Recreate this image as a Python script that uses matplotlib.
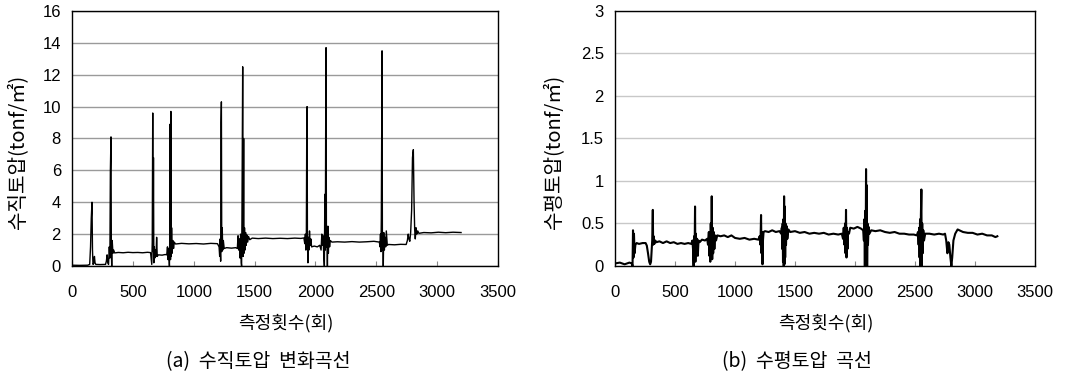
import numpy as np
import matplotlib.pyplot as plt
from matplotlib.ticker import FormatStrFormatter

plt.rcParams['font.family'] = ['Liberation Sans', 'Noto Sans CJK KR', 'DejaVu Sans']
KR = ['Noto Sans CJK KR', 'DejaVu Sans']

# (a) vertical earth pressure trace: (count, tonf/m2)
vertical_pts = [
    (0, 0.05), (60, 0.04), (129, 0.05), (145, 0.1), (152, 1.2), (158, 3.0), (164, 4.0), (168, 1.0),
    (172, 0.1), (178, 0.15), (184, 0.6), (189, 0.2), (195, 0.1), (230, 0.09), (275, 0.1), (282, 0.3),
    (288, 0.7), (294, 0.2), (300, 0.1), (306, 1.2), (311, 0.5), (315, 6.0), (320, 8.1), (323, 0.9),
    (326, 0.0), (330, 1.6), (336, 0.8), (342, 1.0), (350, 0.82), (380, 0.85), (420, 0.83), (460, 0.86),
    (500, 0.84), (540, 0.85), (580, 0.83), (620, 0.86), (645, 0.84), (650, 0.5), (655, 0.1), (659, 1.5),
    (663, 9.6), (666, 0.9), (669, 6.8), (672, 0.2), (676, 1.2), (680, 0.5), (685, 1.0), (690, 0.6),
    (695, 1.8), (700, 0.6), (709, 0.7), (740, 0.68), (765, 0.72), (778, 0.7), (784, 1.2), (789, 0.4),
    (794, 1.1), (800, 0.0), (803, 1.8), (806, 8.9), (809, 0.4), (812, 9.7), (815, 0.6), (818, 2.4),
    (822, 0.8), (828, 1.6), (834, 1.1), (840, 1.5), (850, 1.38), (900, 1.42), (960, 1.39), (1020, 1.41),
    (1080, 1.38), (1140, 1.42), (1195, 1.4), (1208, 1.2), (1213, 0.6), (1217, 1.7), (1221, 0.3),
    (1224, 9.0), (1227, 10.3), (1230, 0.9), (1234, 2.4), (1238, 1.0), (1243, 1.6), (1250, 1.1),
    (1270, 1.15), (1310, 1.12), (1345, 1.15), (1358, 1.1), (1364, 1.9), (1369, 1.0), (1375, 1.7),
    (1380, 0.5), (1385, 2.0), (1390, 0.2), (1393, 0.0), (1396, 3.0), (1402, 12.5), (1406, 0.6),
    (1410, 8.0), (1413, 0.8), (1417, 2.4), (1421, 1.0), (1426, 2.1), (1431, 1.3), (1437, 1.95),
    (1443, 1.5), (1450, 1.85), (1460, 1.65), (1480, 1.75), (1530, 1.72), (1590, 1.75), (1650, 1.72),
    (1710, 1.74), (1770, 1.72), (1830, 1.75), (1880, 1.73), (1905, 1.76), (1912, 1.4), (1917, 2.0),
    (1921, 1.0), (1925, 1.8), (1928, 7.8), (1931, 10.0), (1934, 1.5), (1938, 0.2), (1942, 1.8),
    (1946, 1.0), (1951, 2.2), (1956, 1.3), (1962, 1.7), (1968, 1.2), (1990, 1.25), (2015, 1.2),
    (2035, 1.3), (2046, 1.0), (2052, 2.0), (2057, 1.3), (2062, 1.9), (2068, 0.7), (2073, 0.0),
    (2077, 4.5), (2081, 1.0), (2084, 9.0), (2087, 13.7), (2090, 1.2), (2094, 2.0), (2098, 0.0),
    (2102, 2.5), (2106, 0.8), (2110, 1.8), (2116, 1.2), (2122, 1.6), (2135, 1.5), (2180, 1.52),
    (2240, 1.5), (2300, 1.53), (2360, 1.5), (2420, 1.52), (2480, 1.55), (2525, 1.5), (2530, 1.2),
    (2534, 2.0), (2538, 0.9), (2541, 3.0), (2544, 8.6), (2547, 13.5), (2550, 1.0), (2554, 2.0),
    (2557, 0.0), (2561, 2.1), (2566, 1.0), (2571, 1.8), (2577, 1.2), (2582, 2.2), (2590, 1.3),
    (2600, 1.35), (2650, 1.33), (2700, 1.36), (2745, 1.35), (2755, 1.6), (2762, 2.0), (2768, 1.7),
    (2775, 1.55), (2782, 2.1), (2790, 3.5), (2797, 6.8), (2804, 7.3), (2810, 4.0), (2815, 2.3),
    (2820, 1.7), (2826, 2.4), (2832, 2.0), (2840, 2.2), (2850, 2.05), (2890, 2.1), (2950, 2.08),
    (3010, 2.12), (3070, 2.09), (3130, 2.12), (3196, 2.1),
]

# (b) horizontal earth pressure trace
horizontal_pts = [
    (0, 0.03), (40, 0.04), (80, 0.02), (120, 0.04), (140, 0.03), (146, 0.0), (150, 0.42), (154, 0.1),
    (158, 0.38), (163, 0.15), (170, 0.25), (180, 0.27), (200, 0.26), (230, 0.27), (255, 0.27),
    (265, 0.24), (275, 0.15), (285, 0.05), (293, 0.02), (300, 0.05), (306, 0.2), (310, 0.3),
    (315, 0.66), (318, 0.25), (322, 0.35), (328, 0.26), (335, 0.3), (345, 0.28), (370, 0.29),
    (400, 0.27), (430, 0.29), (460, 0.27), (490, 0.28), (520, 0.26), (550, 0.27), (580, 0.26),
    (610, 0.27), (635, 0.26), (645, 0.3), (650, 0.2), (655, 0.0), (659, 0.35), (663, 0.1), (667, 0.7),
    (670, 0.05), (674, 0.38), (678, 0.15), (684, 0.32), (690, 0.12), (696, 0.3), (705, 0.28),
    (725, 0.31), (750, 0.3), (768, 0.32), (775, 0.25), (782, 0.4), (786, 0.12), (790, 0.35),
    (794, 0.05), (798, 0.5), (802, 0.1), (806, 0.82), (810, 0.08), (814, 0.45), (818, 0.15),
    (823, 0.4), (828, 0.2), (834, 0.36), (842, 0.3), (852, 0.36), (880, 0.35), (910, 0.36),
    (940, 0.34), (970, 0.36), (1000, 0.33), (1040, 0.32), (1080, 0.33), (1120, 0.31), (1160, 0.32),
    (1195, 0.31), (1205, 0.35), (1212, 0.25), (1217, 0.6), (1221, 0.15), (1225, 0.4), (1229, 0.02),
    (1233, 0.3), (1238, 0.4), (1250, 0.41), (1280, 0.4), (1310, 0.42), (1340, 0.4), (1370, 0.41),
    (1385, 0.38), (1390, 0.45), (1394, 0.2), (1397, 0.5), (1400, 0.05), (1403, 0.55), (1406, 0.0),
    (1409, 0.82), (1412, 0.02), (1415, 0.7), (1418, 0.1), (1421, 0.5), (1425, 0.25), (1430, 0.47),
    (1436, 0.32), (1445, 0.43), (1460, 0.4), (1500, 0.41), (1540, 0.39), (1580, 0.4), (1620, 0.38),
    (1660, 0.39), (1700, 0.38), (1740, 0.39), (1780, 0.37), (1820, 0.38), (1860, 0.37), (1890, 0.38),
    (1900, 0.32), (1906, 0.45), (1912, 0.25), (1917, 0.5), (1921, 0.15), (1925, 0.66), (1929, 0.1),
    (1933, 0.45), (1937, 0.2), (1942, 0.4), (1950, 0.38), (1960, 0.45), (1990, 0.44), (2020, 0.46),
    (2050, 0.44), (2068, 0.42), (2074, 0.3), (2078, 0.55), (2082, 0.0), (2086, 0.65), (2089, 0.2),
    (2092, 1.14), (2095, 0.05), (2098, 0.95), (2101, 0.0), (2104, 0.5), (2108, 0.25), (2113, 0.46),
    (2120, 0.38), (2135, 0.42), (2170, 0.41), (2210, 0.42), (2250, 0.4), (2290, 0.39), (2330, 0.4),
    (2370, 0.38), (2410, 0.38), (2450, 0.37), (2490, 0.37), (2515, 0.36), (2525, 0.4), (2530, 0.25),
    (2534, 0.45), (2538, 0.1), (2542, 0.55), (2546, 0.0), (2549, 0.6), (2553, 0.9), (2556, 0.0),
    (2560, 0.5), (2564, 0.15), (2569, 0.42), (2575, 0.3), (2585, 0.38), (2620, 0.38), (2660, 0.37),
    (2700, 0.38), (2735, 0.37), (2750, 0.38), (2760, 0.3), (2770, 0.15), (2778, 0.28), (2786, 0.25),
    (2795, 0.1), (2803, 0.0), (2810, 0.1), (2820, 0.3), (2835, 0.38), (2855, 0.43), (2870, 0.42),
    (2900, 0.4), (2940, 0.39), (2980, 0.39), (3020, 0.37), (3060, 0.38), (3100, 0.36), (3140, 0.36),
    (3170, 0.34), (3186, 0.35),
]

x_ticks = [0, 500, 1000, 1500, 2000, 2500, 3000, 3500]
y_ticks_v = [0, 2, 4, 6, 8, 10, 12, 14, 16]
y_ticks_h = [0, 0.5, 1, 1.5, 2, 2.5, 3]

xlabel = '측정횟수(회)'
ylabel_v = '수직토압(tonf/㎡)'
ylabel_h = '수평토압(tonf/㎡)'
caption_v = '(a)  수직토압  변화곡선'
caption_h = '(b)  수평토압  곡선'

fig = plt.figure(figsize=(10.72, 3.78), dpi=100)
ax1 = fig.add_axes([0.0672, 0.2963, 0.3974, 0.6746])
ax2 = fig.add_axes([0.5737, 0.2963, 0.3918, 0.6746])

panels = [
    (ax1, vertical_pts, y_ticks_v, '#9a9a9a', 1.0, ylabel_v, caption_v, 0.017, 0.267, 0.241),
    (ax2, horizontal_pts, y_ticks_h, '#c8c8c8', 1.5, ylabel_h, caption_h, 0.517, 0.770, 0.743),
]

for ax, pts, yt, gcol, lw, ylab, cap, ylx, xlx, capx in panels:
    x, y = np.array(pts).T
    ax.plot(x, y, color='black', lw=lw)
    ax.set_xlim(0, 3500)
    ax.set_ylim(yt[0], yt[-1])
    ax.set_xticks(x_ticks)
    ax.set_yticks(yt)
    ax.yaxis.set_major_formatter(FormatStrFormatter('%g'))
    ax.grid(axis='y', color=gcol, lw=1)
    ax.set_axisbelow(True)
    ax.tick_params(axis='x', direction='in', length=3.5, color='#888888', labelsize=12, pad=14)
    ax.tick_params(axis='y', length=0, labelsize=12, pad=8)
    for s in ax.spines.values():
        s.set_linewidth(1.0)
        s.set_color('black')
    fig.text(ylx, 0.598, ylab, rotation=90, ha='center', va='center', fontsize=14.5, family=KR)
    fig.text(xlx, 0.145, xlabel, ha='center', va='center', fontsize=13, family=KR)
    fig.text(capx, 0.043, cap, ha='center', va='center', fontsize=14, family=KR)

fig.savefig('out.png', dpi=100)
